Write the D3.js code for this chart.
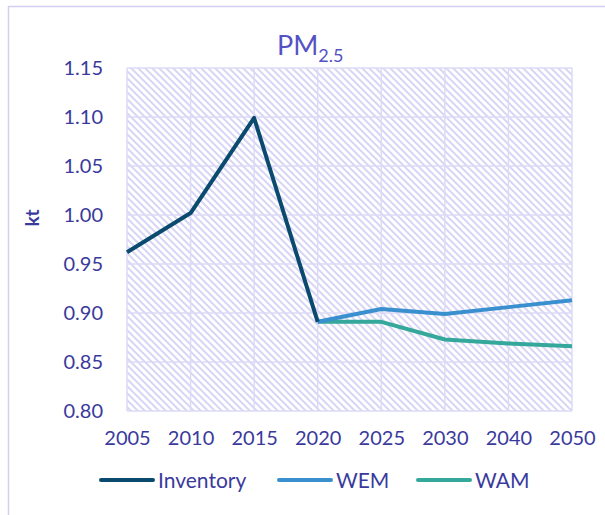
<!DOCTYPE html>
<html>
<head>
<meta charset="utf-8">
<script src="https://cdn.jsdelivr.net/npm/d3@7"></script>
<style>
  html, body { margin: 0; padding: 0; background: #fff; }
  svg { display: block; }
  text { font-family: Lato, "Open Sans", sans-serif; }
</style>
</head>
<body>
<svg id="chart" width="605" height="515"></svg>
<script>
// Emission projections for PM2.5 (kt)
const years = ["2005", "2010", "2015", "2020", "2025", "2030", "2040", "2050"];
const inventory = [0.962, 1.002, 1.099, 0.891, null, null, null, null];
const wem = [null, null, null, 0.891, 0.904, 0.899, 0.906, 0.913];
const wam = [null, null, null, 0.891, 0.891, 0.873, 0.869, 0.866];
const yTicks = [0.80, 0.85, 0.90, 0.95, 1.00, 1.05, 1.10, 1.15];

const seriesList = [
  { name: "Inventory", values: inventory, color: "#0b4a6f" },
  { name: "WEM", values: wem, color: "#3a8fce" },
  { name: "WAM", values: wam, color: "#34a89b" }
];

const svg = d3.select("#chart");
const textColor = "#3a3a9c";
const margin = { left: 127, right: 33, top: 68, bottom: 104 };
const W = 605, H = 515;

// chart frame
svg.append("rect")
  .attr("x", 8.5).attr("y", 6.5)
  .attr("width", W + 10).attr("height", H + 10)
  .attr("fill", "none").attr("stroke", "#d2d0f2").attr("stroke-width", 1.5);

const x = d3.scalePoint().domain(years).range([margin.left, W - margin.right]);
const y = d3.scaleLinear().domain([0.80, 1.15]).range([H - margin.bottom, margin.top]);

// hatched plot background
const defs = svg.append("defs");
const pat = defs.append("pattern")
  .attr("id", "hatch").attr("patternUnits", "userSpaceOnUse")
  .attr("width", 7).attr("height", 7);
pat.append("path")
  .attr("d", "M-1,-1 L8,8 M-1,6 L1,8 M6,-1 L8,1")
  .attr("stroke", "#d8d6f5").attr("stroke-width", 2);

svg.append("rect")
  .attr("x", margin.left).attr("y", margin.top)
  .attr("width", W - margin.right - margin.left)
  .attr("height", H - margin.bottom - margin.top)
  .attr("fill", "url(#hatch)");

// gridlines
const grid = svg.append("g").attr("stroke", "#dcdaf6").attr("stroke-width", 1.5);
grid.selectAll("line.h").data(yTicks).join("line")
  .attr("x1", margin.left).attr("x2", W - margin.right)
  .attr("y1", d => y(d)).attr("y2", d => y(d));
grid.selectAll("line.v").data(years).join("line")
  .attr("x1", d => x(d)).attr("x2", d => x(d))
  .attr("y1", margin.top).attr("y2", H - margin.bottom);

// axes
const yAxis = svg.append("g")
  .attr("transform", `translate(${margin.left},0)`)
  .call(d3.axisLeft(y).tickValues(yTicks).tickFormat(d3.format(".2f")).tickSize(0).tickPadding(24));
yAxis.select(".domain").remove();
yAxis.selectAll("text").attr("fill", textColor).style("font-size", "20px");

const xAxis = svg.append("g")
  .attr("transform", `translate(0,${H - margin.bottom})`)
  .call(d3.axisBottom(x).tickSize(0).tickPadding(20));
xAxis.select(".domain").remove();
xAxis.selectAll("text").attr("fill", textColor).style("font-size", "20px");

// y-axis title
svg.append("text")
  .attr("transform", "translate(39,218) rotate(-90)")
  .attr("text-anchor", "middle")
  .attr("fill", textColor)
  .style("font-size", "19px").style("font-weight", "bold")
  .text("kt");

// chart title
const title = svg.append("text")
  .attr("x", 277).attr("y", 55)
  .attr("fill", "#5452c4")
  .style("font-size", "27px");
title.append("tspan").text("PM");
title.append("tspan").attr("dy", 7).style("font-size", "18px").text("2.5");

// series lines
const line = d3.line()
  .defined(d => d.v != null)
  .x(d => x(d.year))
  .y(d => y(d.v));

seriesList.slice().reverse().forEach(s => {
  svg.append("path")
    .datum(years.map((yr, i) => ({ year: yr, v: s.values[i] })))
    .attr("fill", "none")
    .attr("stroke", s.color)
    .attr("stroke-width", 4)
    .attr("stroke-linejoin", "round")
    .attr("d", line);
});

// legend
const legendX = [101, 279, 418];
const legend = svg.append("g");
seriesList.forEach((s, i) => {
  const g = legend.append("g").attr("transform", `translate(${legendX[i]},480)`);
  g.append("line").attr("x1", 0).attr("x2", 52).attr("y1", 0).attr("y2", 0)
    .attr("stroke", s.color).attr("stroke-width", 4).attr("stroke-linecap", "round");
  g.append("text").attr("x", 57).attr("y", 7.5)
    .attr("fill", textColor).style("font-size", "21px").text(s.name);
});
</script>
</body>
</html>
